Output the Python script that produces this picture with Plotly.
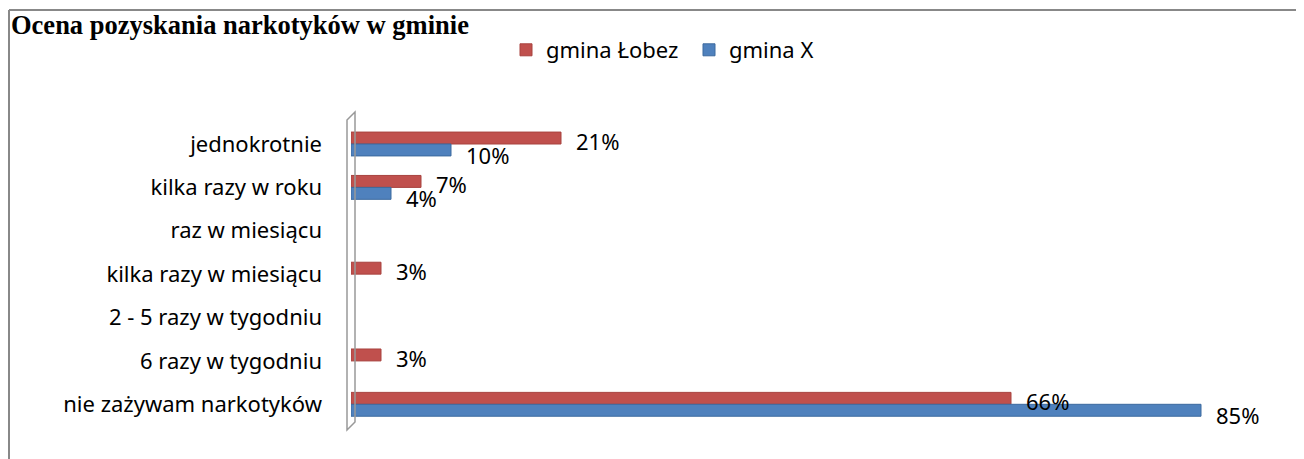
import plotly.graph_objects as go

categories = ["jednokrotnie", "kilka razy w roku", "raz w miesiącu", "kilka razy w miesiącu",
              "2 - 5 razy w tygodniu", "6 razy w tygodniu", "nie zażywam narkotyków"]
lobez = [21, 7, 0, 3, 0, 3, 66]
gmina_x = [10, 4, 0, 0, 0, 0, 85]
series_names = ["gmina Łobez", "gmina X"]
colors = ["#C0504D", "#4F81BD"]
edge_colors = ["#A8423F", "#3C6A9F"]

OFF = 8  # page body margin
W, H = 1304 - OFF, 459 - OFF
# plot area in reference page pixel coordinates
PL, PR, PT, PB = 351, 1261, 116, 426
L, R, T, B = PL - OFF, W - (PR - OFF), PT - OFF, H - (PB - OFF)
pw, ph = W - L - R, H - T - B

def px(x):
    return (x - PL) / pw

def py(y):
    return (PB - y) / ph

FONT = "Noto Sans"
fig = go.Figure()
for name, vals, col, ec in zip(series_names, [lobez, gmina_x], colors, edge_colors):
    fig.add_trace(go.Bar(
        y=categories, x=vals, orientation="h", name=name,
        marker=dict(color=col, line=dict(color=ec, width=[1 if v > 0 else 0 for v in vals])),
    ))

annotations = []
for vals, dy in [(lobez, -7), (gmina_x, 7)]:
    for c, v in zip(categories, vals):
        if v > 0:
            annotations.append(dict(
                x=v, y=c, xref="x", yref="y", text=f"{v}%", showarrow=False,
                xanchor="left", yanchor="middle", xshift=13, yshift=-dy - 4,
                font=dict(family=FONT, size=22, color="black"),
            ))

annotations.append(dict(
    x=px(9), y=py(25), xref="paper", yref="paper", xanchor="left", yanchor="middle",
    text="<b>Ocena pozyskania narkotyków w gminie</b>", showarrow=False,
    font=dict(family="Liberation Serif", size=26.5, color="black"),
))

shapes = [
    dict(type="line", xref="paper", yref="paper", x0=px(9), x1=px(1310), y0=py(10), y1=py(10),
         line=dict(color="#888888", width=2)),
    dict(type="line", xref="paper", yref="paper", x0=px(9), x1=px(9), y0=py(10), y1=py(470),
         line=dict(color="#888888", width=2)),
    dict(type="path", xref="paper", yref="paper",
         path=f"M {px(347)} {py(120)} L {px(355)} {py(112)} L {px(355)} {py(422)} L {px(347)} {py(430)} Z",
         line=dict(color="#999999", width=1.5), fillcolor="rgba(0,0,0,0)"),
]

fig.update_layout(
    width=W, height=H,
    margin=dict(l=L, r=R, t=T, b=B),
    paper_bgcolor="white", plot_bgcolor="white",
    barmode="group", bargap=0.45, bargroupgap=0,
    showlegend=True,
    legend=dict(orientation="h", x=px(506), y=py(50), xanchor="left", yanchor="middle",
                font=dict(family=FONT, size=22, color="black"), traceorder="normal",
                itemwidth=30, entrywidth=138, bgcolor="rgba(0,0,0,0)"),
    xaxis=dict(range=[0, 91], showticklabels=False, showgrid=False, zeroline=False,
               showline=False, ticks=""),
    yaxis=dict(autorange="reversed", showgrid=False, zeroline=False, showline=False,
               ticks="", ticklabelstandoff=28,
               tickfont=dict(family=FONT, size=22, color="black")),
    annotations=annotations,
    shapes=shapes,
)

fig.write_html("out.html")
